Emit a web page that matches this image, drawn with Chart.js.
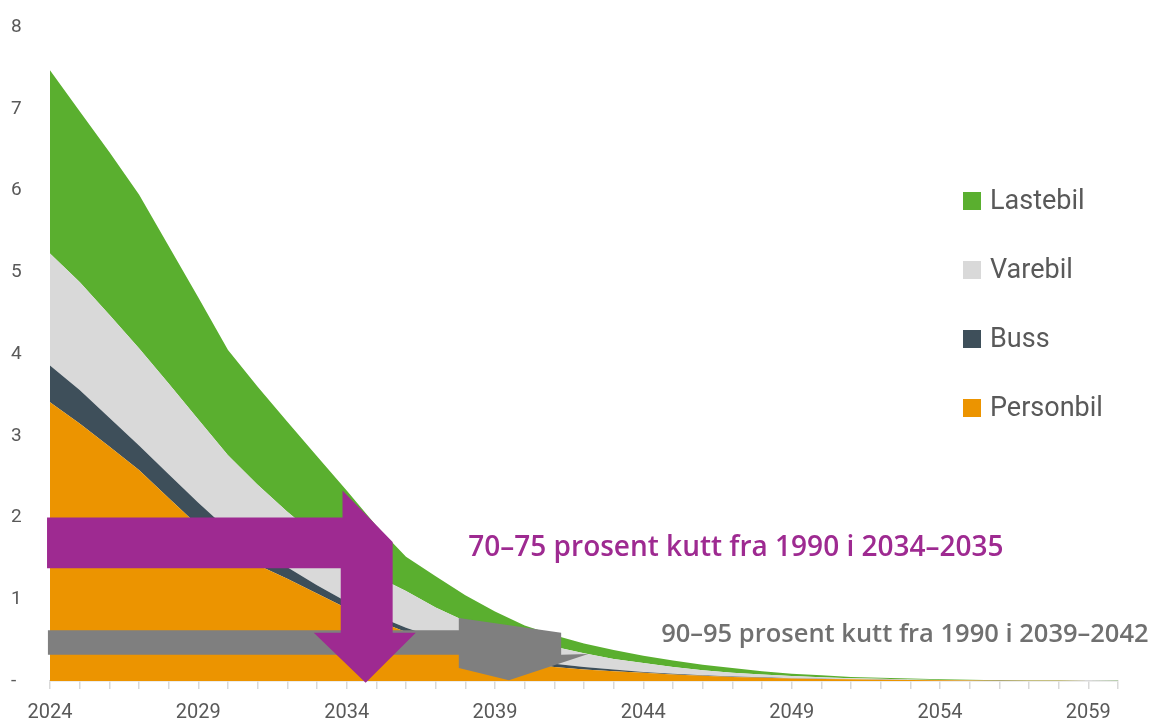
<!DOCTYPE html>
<html>
<head>
<meta charset="utf-8">
<script src="https://cdn.jsdelivr.net/npm/chart.js@4.4.1/dist/chart.umd.min.js"></script>
<style>
  html, body { margin: 0; background: #fff; }
  #wrap { width: 1153px; height: 722px; }
</style>
</head>
<body>
<div id="wrap"><canvas id="chart1"></canvas></div>
<script>
const years = [2024, 2025, 2026, 2027, 2028, 2029, 2030, 2031, 2032, 2033,
               2034, 2035, 2036, 2037, 2038, 2039, 2040, 2041, 2042, 2043,
               2044, 2045, 2046, 2047, 2048, 2049, 2050, 2051, 2052, 2053,
               2054, 2055, 2056, 2057, 2058, 2059, 2060];

// million tonnes (stacked from the bottom)
const personbil = [3.41, 3.15, 2.87, 2.58, 2.24, 1.90, 1.62, 1.42, 1.25, 1.07,
                   0.89, 0.74, 0.60, 0.48, 0.38, 0.30, 0.22, 0.17, 0.14, 0.12,
                   0.10, 0.08, 0.065, 0.05, 0.04, 0.032, 0.025, 0.02, 0.015, 0.011,
                   0.008, 0.006, 0.004, 0.003, 0.002, 0.001, 0.001];
const buss = [0.45, 0.41, 0.35, 0.30, 0.29, 0.28, 0.23, 0.18, 0.14, 0.10,
              0.08, 0.06, 0.05, 0.05, 0.05, 0.04, 0.05, 0.04, 0.03, 0.02,
              0.01, 0.01, 0.005, 0.005, 0.005, 0.003, 0.003, 0.002, 0.002, 0.002,
              0.001, 0.001, 0.001, 0.0005, 0.0005, 0.0005, 0];
const varebil = [1.37, 1.32, 1.26, 1.19, 1.11, 1.02, 0.91, 0.80, 0.68, 0.60,
                 0.53, 0.48, 0.45, 0.37, 0.30, 0.26, 0.23, 0.21, 0.17, 0.13,
                 0.11, 0.08, 0.06, 0.045, 0.035, 0.025, 0.017, 0.013, 0.009, 0.006,
                 0.004, 0.002, 0.001, 0.0005, 0.0005, 0.0005, 0.0005];
const lastebil = [2.24, 2.09, 1.99, 1.88, 1.68, 1.49, 1.29, 1.20, 1.10, 0.98,
                  0.83, 0.62, 0.42, 0.38, 0.32, 0.25, 0.18, 0.14, 0.12, 0.11,
                  0.09, 0.08, 0.07, 0.06, 0.04, 0.03, 0.025, 0.015, 0.014, 0.011,
                  0.007, 0.006, 0.004, 0.003, 0.002, 0.001, 0.0005];

const yTicks = [0, 1, 2, 3, 4, 5, 6, 7, 8];

// annotation arrows, given as [year, value] corners
const purpleArrow = [[2023.9, 2.0], [2033.86, 2.0], [2033.86, 2.33], [2035.55, 1.70],
                     [2035.55, 0.59], [2036.33, 0.59], [2034.64, -0.02], [2032.89, 0.59],
                     [2033.8, 0.59], [2033.8, 1.38], [2023.9, 1.38]];
const greyArrow = [[2023.93, 0.62], [2037.78, 0.62], [2037.78, 0.77], [2041.23, 0.59],
                   [2041.23, 0.32], [2042.14, 0.33], [2039.47, 0.01], [2037.78, 0.16],
                   [2037.78, 0.32], [2023.93, 0.32]];

const colors = {
  Personbil: '#ec9400',
  Buss: '#3e4f5a',
  Varebil: '#d9d9d9',
  Lastebil: '#5aaf2f'
};

const series = [
  ['Personbil', personbil],
  ['Buss', buss],
  ['Varebil', varebil],
  ['Lastebil', lastebil]
];

const overlay = {
  id: 'overlay',
  afterDatasetsDraw(chart) {
    const ctx = chart.ctx;
    const xs = chart.scales.x, ys = chart.scales.y;
    const poly = (pts, col) => {
      ctx.beginPath();
      pts.forEach(([a, b], i) => {
        const px = xs.getPixelForValue(a), py = ys.getPixelForValue(b);
        if (i) ctx.lineTo(px, py); else ctx.moveTo(px, py);
      });
      ctx.closePath();
      ctx.fillStyle = col;
      ctx.fill();
    };
    ctx.save();
    poly(greyArrow, '#7f7f7f');
    poly(purpleArrow, '#9e2a91');

    ctx.textBaseline = 'middle';
    ctx.textAlign = 'left';
    ctx.fillStyle = '#9e2a91';
    ctx.font = '600 28px "Open Sans"';
    ctx.fillText('70–75 prosent kutt fra 1990 i 2034–2035', xs.getPixelForValue(2038.1), ys.getPixelForValue(1.63));
    ctx.fillStyle = '#707070';
    ctx.font = '600 25.5px "Open Sans"';
    ctx.fillText('90–95 prosent kutt fra 1990 i 2039–2042', xs.getPixelForValue(2044.6), ys.getPixelForValue(0.57));

    // legend, top series first
    const names = ['Lastebil', 'Varebil', 'Buss', 'Personbil'];
    ctx.font = '27px Roboto';
    names.forEach((n, i) => {
      const cy = 201 + i * 69;
      ctx.fillStyle = colors[n];
      ctx.fillRect(963, cy - 9, 18, 18);
      ctx.fillStyle = '#595959';
      ctx.fillText(n, 990, cy + 1);
    });
    ctx.restore();
  }
};

new Chart('chart1', {
  type: 'line',
  data: {
    datasets: series.map(([name, vals], i) => ({
      label: name,
      data: years.map((y, k) => ({ x: y, y: vals[k] })),
      backgroundColor: colors[name],
      borderWidth: 0,
      pointRadius: 0,
      tension: 0,
      fill: i === 0 ? 'origin' : '-1'
    }))
  },
  options: {
    responsive: true,
    maintainAspectRatio: false,
    animation: false,
    layout: { padding: { top: 27, right: 35, left: 11, bottom: 0 } },
    plugins: { legend: { display: false }, tooltip: { enabled: false } },
    scales: {
      x: {
        type: 'linear',
        min: years[0],
        max: years[years.length - 1],
        afterFit: s => { s.height = 41; },
        grid: { drawOnChartArea: false, color: '#d9d9d9', tickLength: 8, lineWidth: 1.5 },
        border: { color: '#d9d9d9', width: 1.5 },
        afterBuildTicks: s => { s.ticks = years.map(v => ({ value: v })); },
        ticks: {
          autoSkip: false,
          maxRotation: 0,
          padding: 12,
          color: '#595959',
          font: { family: 'Roboto', size: 20 },
          callback: v => ((v - years[0]) % 5 === 0 ? String(v) : '')
        }
      },
      y: {
        stacked: true,
        min: 0,
        max: 8,
        afterFit: s => { s.width = 39; },
        grid: { display: false },
        border: { display: false },
        afterBuildTicks: s => { s.ticks = yTicks.map(v => ({ value: v })); },
        ticks: {
          crossAlign: 'far',
          color: '#595959',
          font: { family: 'Roboto', size: 19 },
          callback: v => (v === 0 ? '-' : String(v))
        }
      }
    }
  },
  plugins: [overlay]
});
</script>
</body>
</html>
